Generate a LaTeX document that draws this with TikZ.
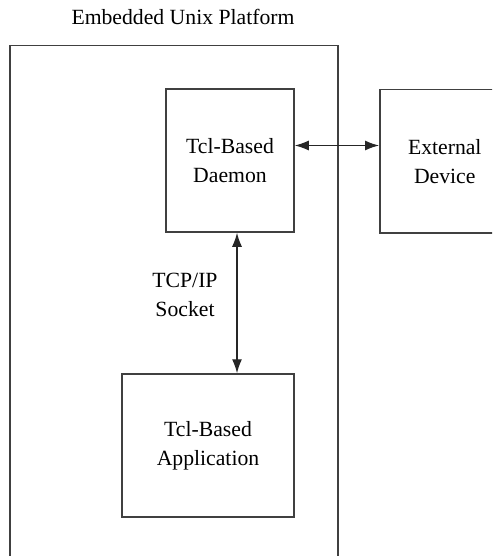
\documentclass[tikz,border=0pt]{standalone}
\usepackage{fontspec}
\setmainfont{Liberation Serif}
\usetikzlibrary{arrows.meta}

\tikzset{
  block/.style={draw=black!75, line width=1.5pt, inner sep=0pt, align=center},
  link/.style={{Latex[length=14pt,width=10pt]}-{Latex[length=14pt,width=10pt]},
    line width=1.2pt, draw=black!85},
}

\begin{document}
\begin{tikzpicture}[x=1pt,y=-1pt,font=\fontsize{21.7}{29}\selectfont]
\useasboundingbox (0,0) rectangle (492,556);
\clip (0,0) rectangle (492,556);

\node (title) at (183,17) {Embedded Unix Platform};
\node[block, anchor=north west, minimum width=328pt, minimum height=530pt] (platform) at (9,45) {};

\node[block, minimum width=128pt, minimum height=143pt] (daemon) at (230,160.5) {Tcl-Based\\Daemon};
\node[block, anchor=north west, minimum width=130pt, minimum height=143pt] (device) at (379,89) {External\\Device};
\node[block, minimum width=172pt, minimum height=143pt] (app) at (208,445.5) {Tcl-Based\\Application};

\node[align=center] (socket) at (185,295) {TCP/IP\\Socket};

% links
\draw[link] ([yshift=15pt]daemon.east) -- ([yshift=15pt]daemon.east -| device.west);
\draw[link] ([xshift=7pt]daemon.south) -- ([xshift=7pt]daemon.south |- app.north);
\end{tikzpicture}
\end{document}
